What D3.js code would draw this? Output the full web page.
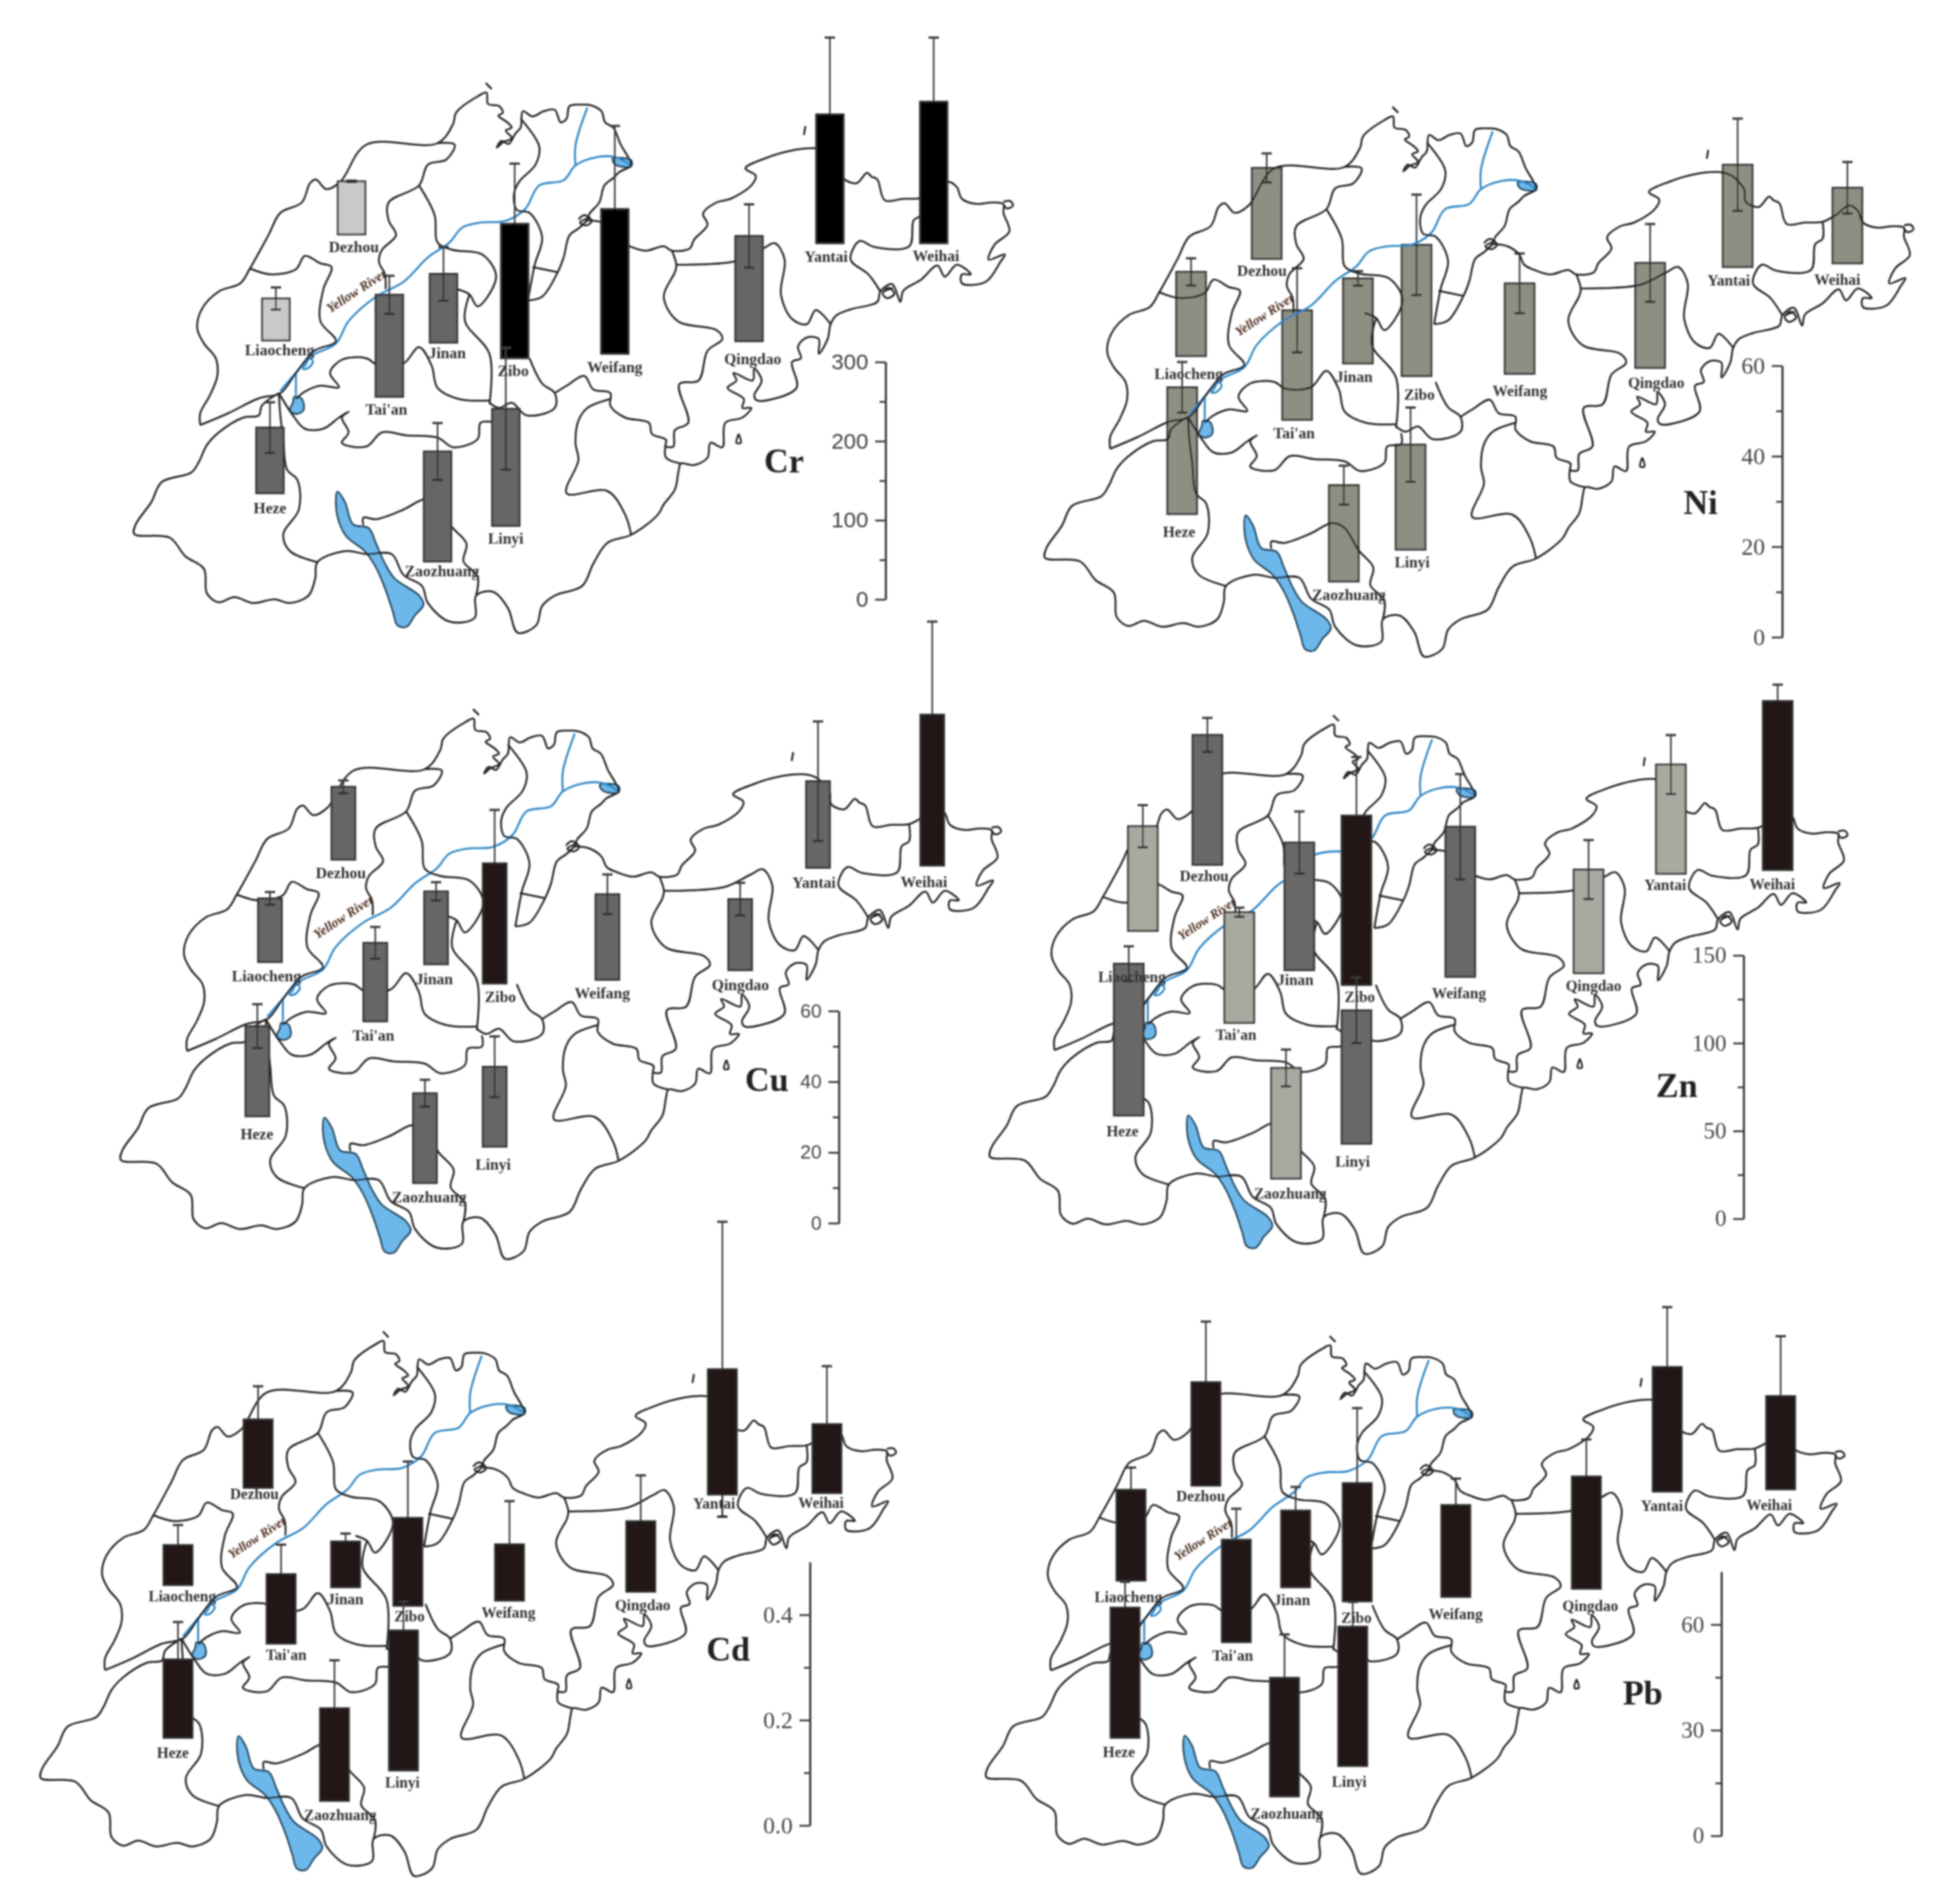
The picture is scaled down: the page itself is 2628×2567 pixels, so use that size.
<!DOCTYPE html>
<html>
<head>
<meta charset="utf-8">
<script src="https://d3js.org/d3.v7.min.js"></script>
<style>
  body { margin: 0; background: #fff; }
  svg { display: block; }
</style>
</head>
<body>
<svg></svg>
<script>
const width = 2628;
const height = 2567;
const svg = d3.select("svg").attr("width", width).attr("height", height);

const cities = ["Dezhou", "Liaocheng", "Tai'an", "Jinan", "Zibo", "Weifang", "Qingdao", "Yantai", "Weihai", "Heze", "Linyi", "Zaozhuang"];

// mean and sd, same order as cities
const crMean = [67, 53, 129, 87, 170, 183, 133, 163, 179, 83, 148, 139];
const crSd = [1, 14, 24, 34, 76, 105, 40, 97, 81, 32, 77, 36];
const niMean = [20.1, 18.6, 24.2, 18.8, 29, 20, 23.2, 22.6, 16.7, 28, 23.2, 21.3];
const niSd = [3.2, 3, 9.3, 1.6, 11.1, 6.6, 8.6, 10.2, 5.7, 5.6, 8.2, 4.3];
const cuMean = [20.6, 18, 22.2, 20.6, 34, 24.2, 20.1, 24.5, 42.7, 25.5, 22.6, 25.4];
const cuSd = [1.8, 1.8, 4.5, 2.6, 15.1, 5.6, 4.6, 16.9, 26.3, 6.2, 8.6, 3.8];
const znMean = [74, 59.6, 63, 72.7, 96.5, 85.5, 59, 62.2, 96.3, 86.5, 76, 63];
const znSd = [9.7, 12, 2.6, 17.7, 33.4, 30, 16.8, 16.8, 9.3, 9.9, 18.7, 10.5];
const cdMean = [0.13, 0.076, 0.132, 0.087, 0.167, 0.107, 0.134, 0.238, 0.131, 0.149, 0.266, 0.176];
const cdSd = [0.063, 0.038, 0.056, 0.015, 0.107, 0.082, 0.087, 0.28, 0.11, 0.071, 0.055, 0.091];
const pbMean = [29.4, 25.8, 29.1, 21.8, 33.6, 26.1, 31.9, 35.4, 26.5, 37, 39.6, 33.7];
const pbSd = [17.2, 6.3, 8.8, 6.7, 21.3, 7.5, 10.5, 17, 17, 7.3, 7, 12.3];

// where each bar stands on the page
const crPlaceX = [474, 372, 525, 598, 694, 829, 1010, 1119, 1259, 364, 682, 590];
const crPlaceY = [316, 459, 535, 462, 483, 477, 460, 328, 328, 665, 709, 757];
const niPlaceX = [1708, 1606, 1749, 1831, 1910, 2049, 2225, 2343, 2491, 1594, 1902, 1812];
const niPlaceY = [349, 480, 566, 490, 507, 504, 496, 360, 355, 693, 741, 784];
const cuPlaceX = [463, 364, 506, 588, 667, 819, 998, 1103, 1257, 347, 667, 573];
const cuPlaceY = [1159, 1297, 1377, 1300, 1326, 1321, 1308, 1170, 1167, 1505, 1546, 1595];
const znPlaceX = [1628, 1541, 1671, 1752, 1829, 1969, 2142, 2253, 2397, 1522, 1829, 1734];
const znPlaceY = [1166, 1255, 1379, 1308, 1328, 1317, 1312, 1178, 1173, 1504, 1542, 1589];
const cdPlaceX = [348, 240, 379, 466, 550, 687, 864, 974, 1115, 240, 544, 451];
const cdPlaceY = [2006, 2137, 2216, 2140, 2165, 2158, 2146, 2015, 2013, 2343, 2387, 2428];
const pbPlaceX = [1626, 1525, 1667, 1747, 1830, 1963, 2139, 2248, 2401, 1517, 1824, 1732];
const pbPlaceY = [2003, 2131, 2214, 2140, 2159, 2153, 2142, 2011, 2008, 2343, 2381, 2422];

// bar shades: 0 light, 1 mid, 2 dark
const crShade = [0, 0, 1, 1, 2, 2, 1, 2, 2, 1, 1, 1];
const cuShade = [1, 1, 1, 1, 2, 1, 1, 1, 2, 1, 1, 1];
const znShade = [1, 0, 0, 1, 2, 1, 0, 0, 2, 1, 1, 0];
const allDark = [2, 2, 2, 2, 2, 2, 2, 2, 2, 2, 2, 2];
const allLight = [0, 0, 0, 0, 0, 0, 0, 0, 0, 0, 0, 0];

// map outlines, traced in the frame of the Cr panel
const coastLines = [
  [[270,573],[270,557],[283,533],[293,507],[291,483],[275,463],[266,443],[272,417],[295,393],[324,382],[337,362],[362,317],[378,287],[407,273],[418,247],[426,242],[440,255],[459,245],[494,195],[590,193],[611,167],[615,152],[644,130],[656,125],[658,140],[673,143],[678,152],[672,156],[684,165],[690,172],[682,176],[690,186],[678,192],[670,199],[676,190],[686,194],[695,180],[702,172],[705,150],[718,157],[733,150],[748,148],[756,165],[764,160],[768,143],[785,141],[797,142],[811,150],[816,165],[827,172],[837,195],[847,212],[851,223],[835,232],[827,240],[815,250],[808,273],[795,288],[792,297]],
  [[792,297],[812,300],[828,311],[835,325],[849,332],[871,338],[895,332],[906,338],[930,335],[936,323],[954,303],[948,288],[966,273],[985,268],[1013,250],[1019,237],[1005,227],[1033,213],[1072,202],[1102,200],[1118,205],[1135,223],[1137,240],[1155,247],[1169,233],[1175,238],[1183,242],[1193,270],[1218,268],[1242,267],[1260,258],[1278,245],[1290,252],[1297,268],[1317,275],[1337,273],[1353,275],[1353,287],[1361,312],[1341,330],[1333,350],[1355,343],[1349,353],[1329,380],[1297,382],[1297,370],[1309,370],[1290,357],[1274,373],[1264,358],[1242,377],[1218,392],[1214,407],[1203,383],[1187,393],[1183,407],[1147,417],[1128,425],[1120,437],[1116,457],[1104,477],[1104,457],[1088,455],[1076,467],[1080,483],[1068,488],[1074,523],[1021,540],[1017,533],[1027,513],[1017,497],[1015,513],[989,503],[993,513],[981,523],[1003,538],[1001,550],[1013,550],[1001,563],[978,570],[974,603],[958,597],[954,617],[936,627],[918,625],[915,635],[910,660],[895,680],[887,694],[851,721],[819,732],[800,760],[785,790],[748,803],[731,817],[723,843],[698,853],[685,820],[665,798],[642,803],[640,833],[606,838],[577,813],[569,790],[544,775],[528,747],[494,747],[465,743],[428,758],[425,780],[416,803],[391,813],[370,808],[341,813],[316,805],[295,812],[279,800],[275,767],[250,750],[229,725],[181,720],[183,707],[204,677],[218,650],[258,637],[268,623],[279,600],[295,583],[328,563],[349,560],[353,547],[376,530]]
];
const borderLines = [
  [[270,573],[308,557],[349,537],[378,530],[399,503],[424,473],[453,460],[432,433],[436,390],[447,360],[432,355],[411,345],[399,363],[366,370],[337,362]],
  [[590,193],[613,195],[602,215],[577,222],[565,250],[524,273],[524,297],[534,317],[515,337],[511,353],[519,370],[520,390]],
  [[565,250],[586,290],[590,327],[611,337],[650,343],[669,373],[644,413],[633,397],[617,390]],
  [[633,397],[627,433],[660,477],[660,545]],
  [[399,538],[411,528],[432,520],[457,522],[445,503],[461,485],[494,483],[509,492],[544,490],[565,468],[582,493],[590,523],[619,538],[660,540]],
  [[376,530],[395,560],[411,578],[436,578],[457,563],[470,555],[461,563],[470,583],[461,597],[494,602],[515,583],[548,587],[590,590],[611,603],[644,592],[648,570],[667,567],[667,552]],
  [[376,530],[378,560],[382,593],[387,633],[401,647],[403,687],[382,720],[391,743],[428,758]],
  [[490,708],[490,698],[507,700],[544,687],[573,673],[590,680],[609,710],[629,733],[625,757],[644,777],[642,803]],
  [[660,543],[673,550],[690,543],[710,560],[748,550],[748,530],[731,517],[714,483]],
  [[748,530],[764,520],[788,507],[800,525],[823,530],[823,547],[843,563],[875,570],[879,585],[898,593],[897,602],[898,617],[918,625]],
  [[906,338],[912,357],[910,367],[895,400],[914,433],[966,445],[974,457],[954,473],[942,513],[916,518],[928,570],[910,580],[908,602],[897,602]],
  [[823,538],[792,550],[780,567],[776,598],[780,620],[764,665],[819,662],[843,694],[851,721]],
  [[912,357],[993,352],[1029,335],[1045,328],[1058,350],[1053,397],[1068,430],[1088,437],[1100,418],[1120,437]],
  [[1187,393],[1171,370],[1147,350],[1159,325],[1179,333],[1226,332],[1232,297],[1242,290],[1242,267]],
  [[712,405],[731,400],[752,367],[760,347],[768,317],[780,308],[792,297]],
  [[718,360],[752,367]],
  [[702,160],[727,197],[722,222],[700,245],[693,262],[697,283],[714,287],[731,320],[721,357],[712,405]],
  [[780,296],[788,290],[798,298],[790,304],[782,300],[796,293]],
  [[1353,272],[1362,271],[1366,277],[1358,281],[1353,276]],
  [[1190,395],[1198,388],[1206,396],[1196,402],[1190,395],[1204,388]],
  [[1086,170],[1084,182]],
  [[655,112],[663,120]],
  [[996,585],[993,597],[999,597],[996,585]]
];
const yellowRiver = [
  [[851,223],[830,212],[804,212],[776,223],[760,243],[727,250],[708,282],[681,298],[648,300],[623,307],[606,327],[577,347],[544,380],[507,400],[470,433],[453,463],[420,480],[395,507],[378,527]],
  [[792,145],[776,196],[776,223]],
  [[399,503],[399,533]],
  [[412,492],[418,483],[422,488],[414,497],[408,497],[412,492]]
];
const lakes = [
  [[455,663],[465,677],[476,707],[497,712],[507,733],[519,760],[532,780],[565,803],[571,815],[559,830],[548,845],[536,843],[530,825],[520,795],[507,765],[492,743],[467,723],[457,703],[453,677]],
  [[397,535],[407,538],[409,553],[399,558],[391,553],[395,543]],
  [[826,214],[851,216],[851,224],[830,222]]
];

const labelX = [477, 377, 521, 603, 692, 829, 1015, 1114, 1262, 364, 682, 596];
const labelY = [333, 472, 552, 476, 500, 495, 484, 346, 345, 685, 726, 770];

const mapFrameX = [180, 1374];
const mapFrameY = [125, 853];

const panels = [
  { name: "Cr", mean: crMean, sd: crSd, placeX: crPlaceX, placeY: crPlaceY, shade: crShade,
    fills: ["#c9c9c9", "#666666", "#000000"], barWidth: 37,
    mapLeft: 180, mapRight: 1374, mapTop: 125, mapBottom: 853,
    axisX: 1194, axisTop: 488, axisBottom: 808, domain: [0, 300], major: [0, 100, 200, 300], minor: [50, 150, 250],
    format: d3.format("d"), tickFont: "Liberation Sans", tickSize: 30, titleX: 1057, titleY: 622, mapOnTop: false },
  { name: "Ni", mean: niMean, sd: niSd, placeX: niPlaceX, placeY: niPlaceY, shade: allLight,
    fills: ["#8d8f82", "#8d8f82", "#8d8f82"], barWidth: 40,
    mapLeft: 1408, mapRight: 2588, mapTop: 157, mapBottom: 885,
    axisX: 2403, axisTop: 493, axisBottom: 859, domain: [0, 60], major: [0, 20, 40, 60], minor: [10, 30, 50],
    format: d3.format("d"), tickFont: "Liberation Serif", tickSize: 32, titleX: 2293, titleY: 678, mapOnTop: true },
  { name: "Cu", mean: cuMean, sd: cuSd, placeX: cuPlaceX, placeY: cuPlaceY, shade: cuShade,
    fills: ["#666666", "#666666", "#231815"], barWidth: 32,
    mapLeft: 162, mapRight: 1358, mapTop: 969, mapBottom: 1697,
    axisX: 1131, axisTop: 1363, axisBottom: 1649, domain: [0, 60], major: [0, 20, 40, 60], minor: [10, 30, 50],
    format: d3.format("d"), tickFont: "Liberation Sans", tickSize: 26, titleX: 1034, titleY: 1456, mapOnTop: false },
  { name: "Zn", mean: znMean, sd: znSd, placeX: znPlaceX, placeY: znPlaceY, shade: znShade,
    fills: ["#a7aaa0", "#6b6866", "#231815"], barWidth: 40,
    mapLeft: 1334, mapRight: 2499, mapTop: 977, mapBottom: 1690,
    axisX: 2351, axisTop: 1288, axisBottom: 1643, domain: [0, 150], major: [0, 50, 100, 150], minor: [25, 75, 125],
    format: d3.format("d"), tickFont: "Liberation Serif", tickSize: 31, titleX: 2261, titleY: 1464, mapOnTop: false },
  { name: "Cd", mean: cdMean, sd: cdSd, placeX: cdPlaceX, placeY: cdPlaceY, shade: allDark,
    fills: ["#231815", "#231815", "#231815"], barWidth: 39,
    mapLeft: 54, mapRight: 1216, mapTop: 1808, mapBottom: 2529,
    axisX: 1092, axisTop: 2106, axisBottom: 2461, domain: [0, 0.5], major: [0, 0.2, 0.4], minor: [0.1, 0.3],
    format: d3.format(".1f"), tickFont: "Liberation Serif", tickSize: 32, titleX: 982, titleY: 2224, mapOnTop: false },
  { name: "Pb", mean: pbMean, sd: pbSd, placeX: pbPlaceX, placeY: pbPlaceY, shade: allDark,
    fills: ["#231815", "#231815", "#231815"], barWidth: 39,
    mapLeft: 1329, mapRight: 2495, mapTop: 1814, mapBottom: 2526,
    axisX: 2321, axisTop: 2119, axisBottom: 2475, domain: [0, 75], major: [0, 30, 60], minor: [15, 45],
    format: d3.format("d"), tickFont: "Liberation Serif", tickSize: 31, titleX: 2215, titleY: 2283, mapOnTop: false }
];

const soften = svg.append("defs").append("filter").attr("id", "soft");
soften.append("feGaussianBlur").attr("stdDeviation", 0.9);

const root = svg.append("g").attr("filter", "url(#soft)");

function drawMap(group, mapX, mapY) {
  const line = d3.line().x(d => mapX(d[0])).y(d => mapY(d[1])).curve(d3.curveCatmullRom.alpha(0.5));
  const closed = d3.line().x(d => mapX(d[0])).y(d => mapY(d[1])).curve(d3.curveCatmullRomClosed.alpha(0.5));

  group.selectAll(".lake").data(lakes).join("path")
    .attr("class", "lake")
    .attr("d", closed)
    .attr("fill", "#6db8ea")
    .attr("stroke", "#173a52")
    .attr("stroke-width", 2.4);

  group.selectAll(".river").data(yellowRiver).join("path")
    .attr("class", "river")
    .attr("d", line)
    .attr("fill", "none")
    .attr("stroke", "#2c84c4")
    .attr("stroke-width", 2.6);

  group.selectAll(".border").data(coastLines.concat(borderLines)).join("path")
    .attr("class", "border")
    .attr("d", line)
    .attr("fill", "none")
    .attr("stroke", "#222")
    .attr("stroke-width", 2.5)
    .attr("stroke-linejoin", "round");
}

function drawBars(group, p, y) {
  const rows = cities.map((c, i) => ({ city: c, mean: p.mean[i], sd: p.sd[i], x: p.placeX[i], base: p.placeY[i], shade: p.shade[i] }));
  const zero = y(0);
  const top = d => d.base - (zero - y(d.mean));
  // the lower half of the whisker disappears into a dark bar
  const lowerColor = d => d.shade === 2 ? p.fills[2] : "#2e2e2e";

  const bar = group.selectAll(".bar").data(rows).join("g").attr("class", "bar");

  bar.append("rect")
    .attr("x", d => d.x - p.barWidth / 2)
    .attr("y", top)
    .attr("width", p.barWidth)
    .attr("height", d => zero - y(d.mean))
    .attr("fill", d => p.fills[d.shade])
    .attr("stroke", "#333")
    .attr("stroke-width", 2.5);

  bar.append("line")
    .attr("x1", d => d.x)
    .attr("x2", d => d.x)
    .attr("y1", d => d.base - (zero - y(d.mean + d.sd)))
    .attr("y2", top)
    .attr("stroke", "#3a3a3a")
    .attr("stroke-width", 2.2);

  bar.append("line")
    .attr("x1", d => d.x)
    .attr("x2", d => d.x)
    .attr("y1", top)
    .attr("y2", d => d.base - (zero - y(d.mean - d.sd)))
    .attr("stroke", lowerColor)
    .attr("stroke-width", 2.2);

  bar.append("line")
    .attr("x1", d => d.x - 7)
    .attr("x2", d => d.x + 7)
    .attr("y1", d => d.base - (zero - y(d.mean + d.sd)))
    .attr("y2", d => d.base - (zero - y(d.mean + d.sd)))
    .attr("stroke", "#3a3a3a")
    .attr("stroke-width", 3);

  bar.append("line")
    .attr("x1", d => d.x - 7)
    .attr("x2", d => d.x + 7)
    .attr("y1", d => d.base - (zero - y(d.mean - d.sd)))
    .attr("y2", d => d.base - (zero - y(d.mean - d.sd)))
    .attr("stroke", lowerColor)
    .attr("stroke-width", 3);
}

function drawPanel(p) {
  const mapX = d3.scaleLinear().domain(mapFrameX).range([p.mapLeft, p.mapRight]);
  const mapY = d3.scaleLinear().domain(mapFrameY).range([p.mapTop, p.mapBottom]);
  const y = d3.scaleLinear().domain(p.domain).range([p.axisBottom, p.axisTop]);
  const scale = (p.mapRight - p.mapLeft) / (mapFrameX[1] - mapFrameX[0]);

  const group = root.append("g").attr("class", "panel-" + p.name);

  if (p.mapOnTop) {
    drawBars(group.append("g"), p, y);
    drawMap(group.append("g"), mapX, mapY);
  } else {
    drawMap(group.append("g"), mapX, mapY);
    drawBars(group.append("g"), p, y);
  }

  group.selectAll(".city").data(cities).join("text")
    .attr("class", "city")
    .attr("x", (d, i) => mapX(labelX[i]))
    .attr("y", (d, i) => mapY(labelY[i]) + 7)
    .attr("text-anchor", "middle")
    .attr("font-family", "Liberation Serif")
    .attr("font-weight", "bold")
    .attr("font-size", 21 * scale)
    .attr("fill", "#333")
    .text(d => d);

  group.append("text")
    .attr("transform", `translate(${mapX(484)}, ${mapY(397)}) rotate(-33)`)
    .attr("text-anchor", "middle")
    .attr("font-family", "Liberation Serif")
    .attr("font-weight", "bold")
    .attr("font-style", "italic")
    .attr("font-size", 18 * scale)
    .attr("fill", "#4a2c1c")
    .text("Yellow River");

  group.append("text")
    .attr("x", p.titleX)
    .attr("y", p.titleY + 15)
    .attr("text-anchor", "middle")
    .attr("font-family", "Liberation Serif")
    .attr("font-weight", "bold")
    .attr("font-size", 46)
    .attr("fill", "#222")
    .text(p.name);

  const axisMajor = d3.axisLeft(y).tickValues(p.major).tickFormat(p.format).tickSize(14).tickSizeOuter(0).tickPadding(9);
  const axisMinor = d3.axisLeft(y).tickValues(p.minor).tickFormat("").tickSize(8).tickSizeOuter(0);

  const axisG = group.append("g").attr("transform", `translate(${p.axisX}, 0)`);
  axisG.append("g").call(axisMinor);
  axisG.append("g").call(axisMajor);
  axisG.selectAll("path, line").attr("stroke", "#3a3a3a").attr("stroke-width", 2.5);
  axisG.selectAll("text")
    .attr("font-family", p.tickFont)
    .attr("font-size", p.tickSize)
    .attr("fill", "#444");
}

panels.forEach(drawPanel);
</script>
</body>
</html>
